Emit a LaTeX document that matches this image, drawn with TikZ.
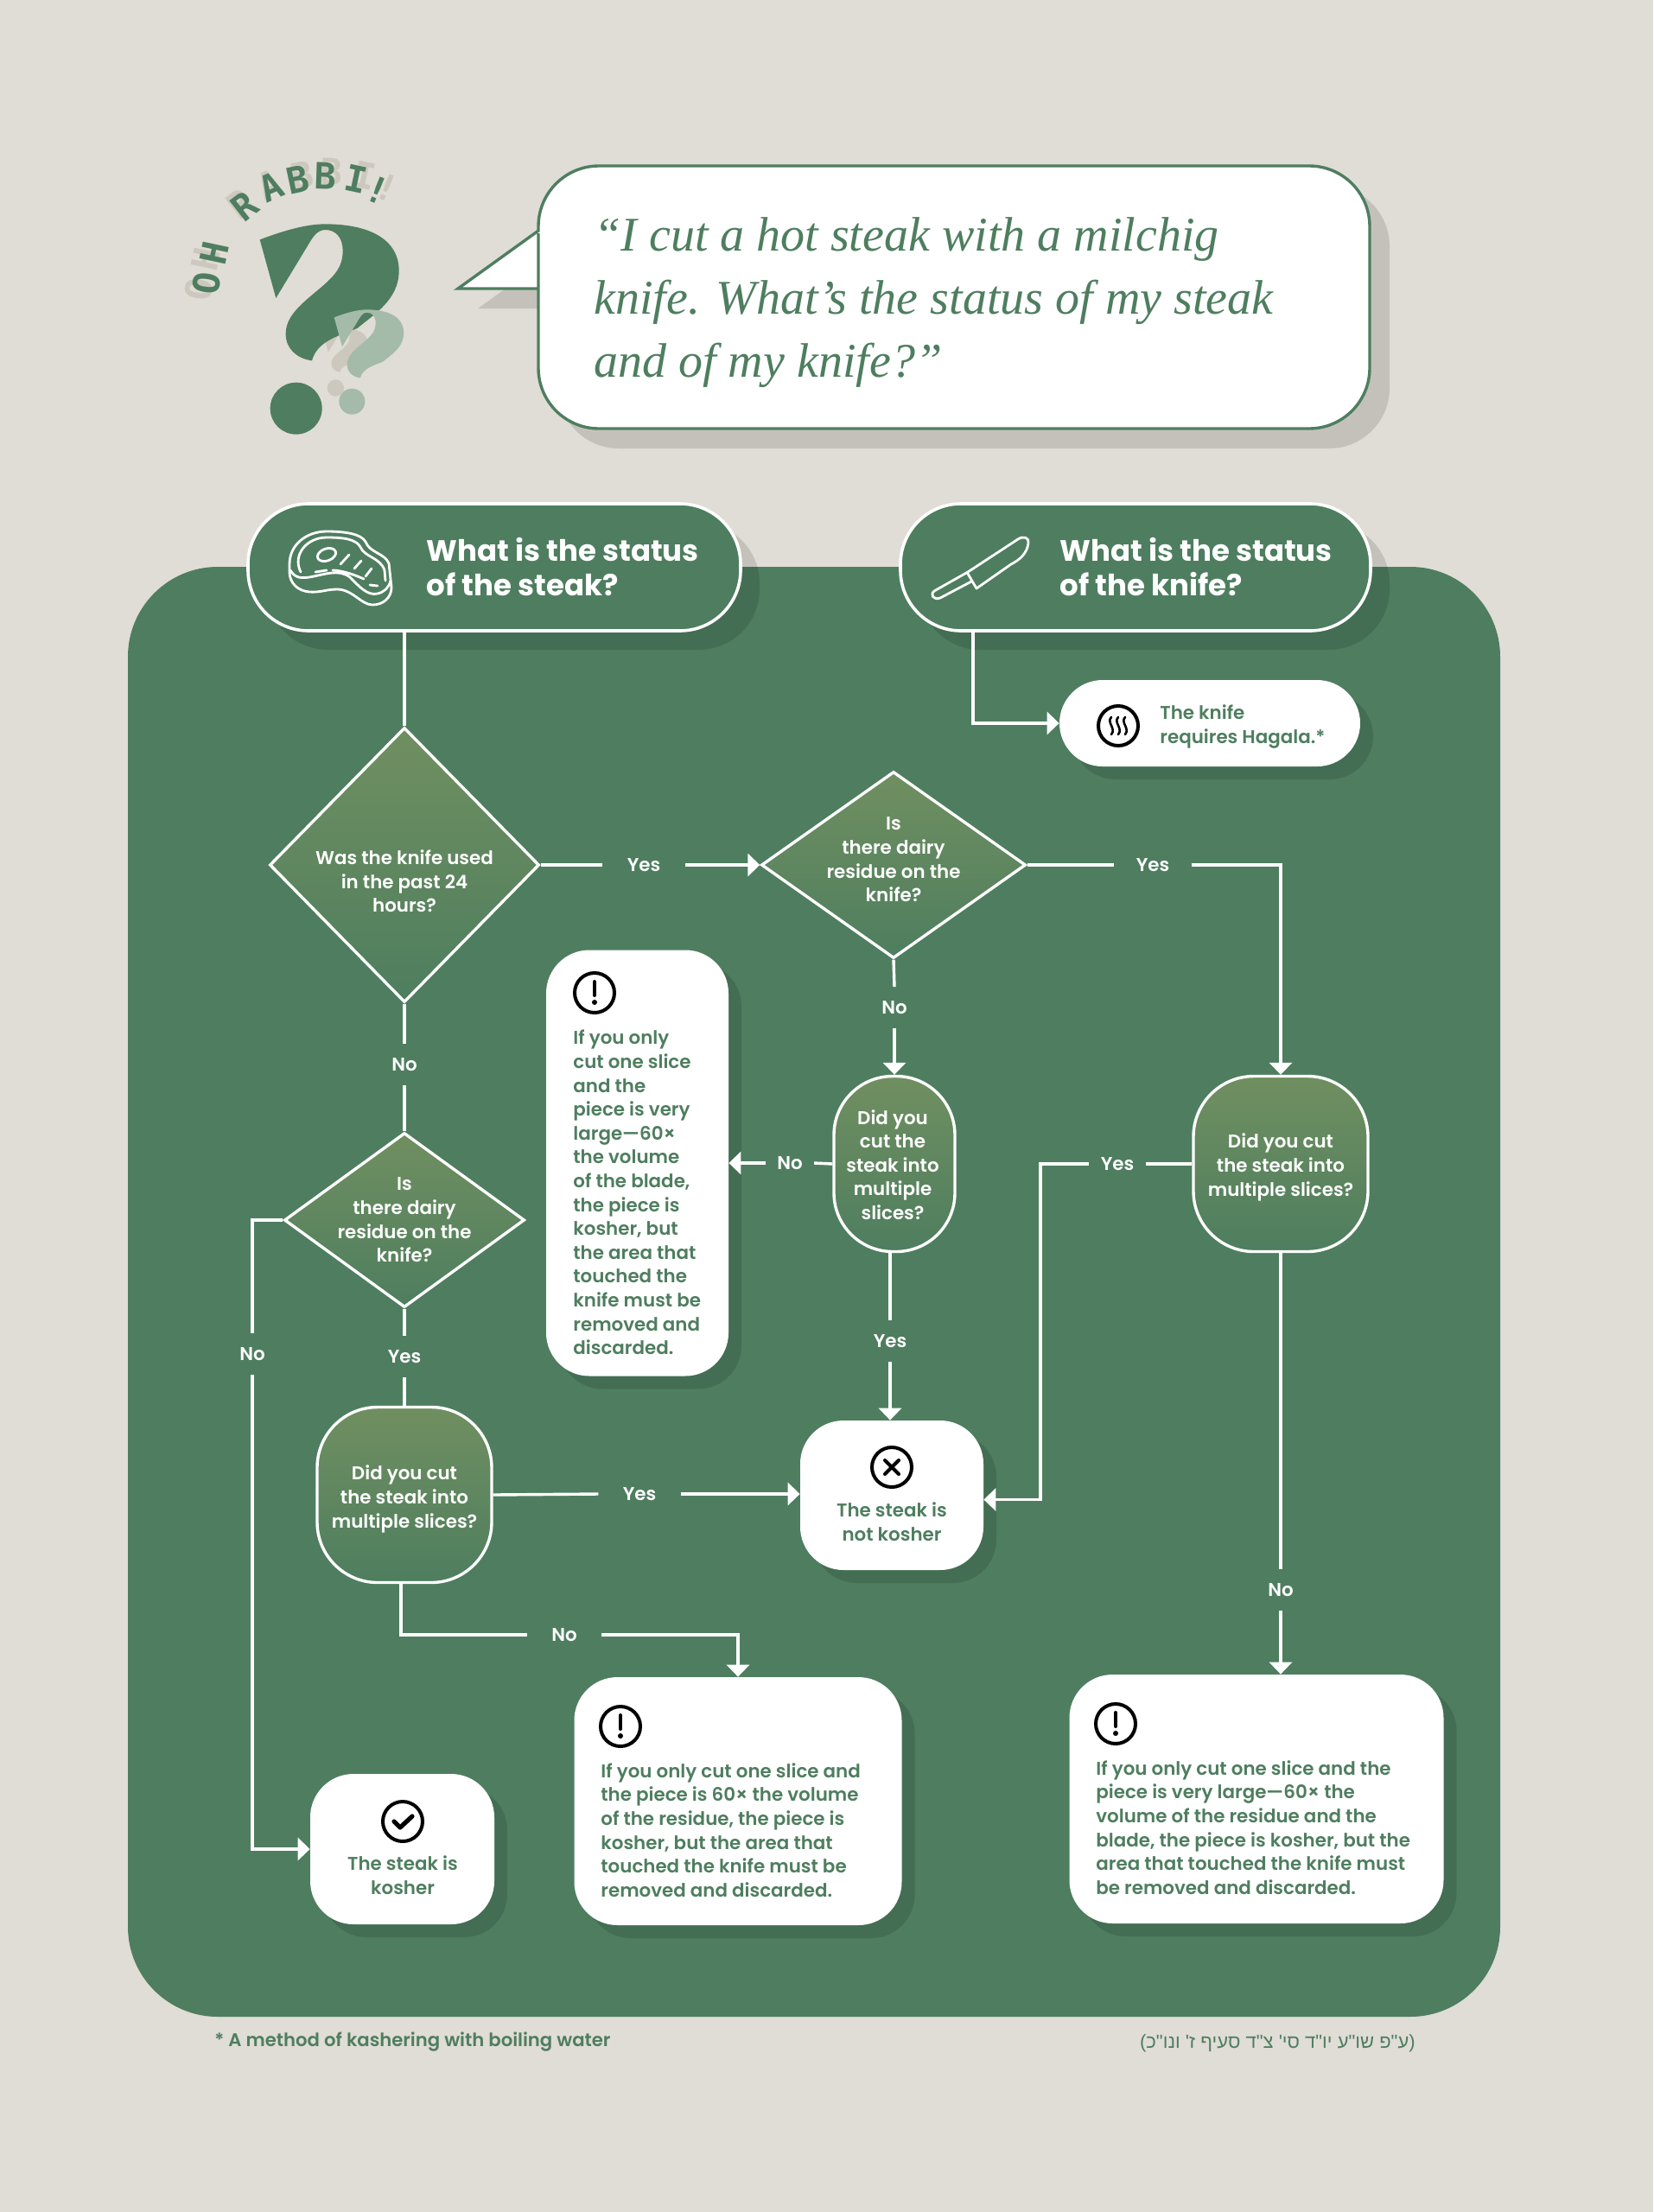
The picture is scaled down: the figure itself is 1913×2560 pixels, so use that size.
\documentclass[tikz,border=0pt]{standalone}
\usepackage{fontspec}
\setsansfont{Poppins}[BoldFont=Poppins SemiBold]
\newfontfamily\hdrfont{Poppins}[UprightFont=* Bold]
\newfontfamily\quotefont{Liberation Serif}
\newfontfamily\hebfont[Script=Hebrew]{Liberation Sans}
\newfontfamily\monofnt{DejaVu Sans Mono}[BoldFont=DejaVu Sans Mono Bold]
\TeXXeTstate=1
\usepackage{tikz}
\usetikzlibrary{positioning,arrows.meta,calc,shapes.geometric,shadows}
\definecolor{pgreen}{HTML}{4E7E5F}
\definecolor{qtop}{HTML}{708F60}
\definecolor{bgc}{HTML}{E0DCD6}
\definecolor{cgray}{HTML}{CDC8BE}
\definecolor{clight}{HTML}{A5BBA9}
\tikzset{
  shd/.style={drop shadow={shadow xshift=#1,shadow yshift=-#1,fill=black,opacity=.12}},
  warnic/.pic={
    \draw[line width=2pt] (0,0) circle[radius=23];
    \draw[line width=2pt,line cap=round] (0,-13) -- (0,3);
    \fill (0,11) circle[radius=3];},
  crossic/.pic={
    \draw[line width=2pt] (0,0) circle[radius=23];
    \draw[line width=2pt,line cap=round] (-8,-8) -- (8,8) (-8,8) -- (8,-8);},
  checkic/.pic={
    \draw[line width=2pt] (0,0) circle[radius=23];
    \draw[line width=2.6pt,line cap=round,line join=round] (-10,0) -- (-3,7) -- (11,-6);},
  steamic/.pic={
    \draw[line width=2pt] (0,0) circle[radius=23];
    \foreach \dx in {-8,0,8}
      \draw[line width=1.3pt,line cap=round] (\dx,-10) .. controls (\dx-6,-4) and (\dx+6,3) .. (\dx,10);},
  qmk/.pic={
    \path[pic actions] (362,352) .. controls (460,315) and (530,298) .. (590,298)
      .. controls (740,298) and (845,350) .. (845,460)
      .. controls (845,560) and (760,610) .. (700,660)
      .. controls (620,690) and (560,710) .. (543,772)
      .. controls (490,765) and (452,730) .. (452,680)
      .. controls (452,620) and (500,580) .. (560,530)
      .. controls (620,480) and (650,450) .. (650,390)
      .. controls (650,345) and (625,318) .. (590,318)
      .. controls (560,318) and (545,345) .. (530,370) -- (418,555) -- cycle;}
}
\begin{document}
\begin{tikzpicture}[x=0.5pt,y=-0.5pt,
  hdr/.style={draw=white,line width=1.8pt,fill=pgreen,rounded corners=35pt,shd=11pt,minimum height=73.5pt},
  wbx/.style={fill=white,rounded corners=25pt,shd=7.5pt},
  qbx/.style={draw=white,line width=1.7pt,top color=qtop,bottom color=pgreen,rounded corners=35pt,
    minimum width=#1,minimum height=101.5pt},
  dia/.style={diamond,draw=white,line width=1.7pt,top color=qtop,bottom color=pgreen,inner sep=0pt},
  qtxt/.style={font=\sffamily\bfseries\fontsize{10.7}{13.8}\selectfont,text=white,align=center,inner sep=0pt},
  htxt/.style={font=\hdrfont\fontsize{17}{19.6}\selectfont,text=white,align=left,anchor=west,inner sep=0pt},
  wtxt/.style={font=\sffamily\bfseries\fontsize{10.7}{13.8}\selectfont,text=pgreen,align=#1,inner sep=0pt},
  lbl/.style={font=\sffamily\bfseries\fontsize{10.7}{13}\selectfont,text=white,inner xsep=#1,inner ysep=8pt},
  lbl/.default=6.5pt,
  ln/.style={draw=white,line width=1.7pt},
  arw/.style={ln,-{Triangle[length=7pt,width=13pt]}}]
\useasboundingbox (0,0) rectangle (1913,2560);
\fill[bgc] (0,0) rectangle (1913,2560);
\fill[pgreen,rounded corners=52pt] (148,1000) -- (148,656) -- (1736,656) -- (1736,2334) -- (148,2334) -- cycle;
% bubble
\path[draw=pgreen,line width=1.7pt,fill=white,shd=11.5pt] (530,334) -- (623,267) -- (623,260)
  [rounded corners=35pt] -- (623,192) -- (1585,192) -- (1585,496) -- (623,496) -- (623,340)
  [sharp corners] -- (623,334) -- cycle;
\node[font=\quotefont\itshape\fontsize{28}{36.5}\selectfont,text=pgreen,align=left,anchor=west,inner sep=0pt] (quote) at (687,350)
  {“I cut a hot steak with a milchig\\knife. What’s the status of my steak\\and of my knife?”};
% question marks and title
\begin{scope}[shift={(180,160)},x=.16667pt,y=-.16667pt]
\pic[fill=cgray,shift={(466,565)},scale=.32] {qmk};
\fill[cgray] (625,867) circle[radius=29];
\pic[fill=pgreen] {qmk};
\fill[pgreen] (488,938) circle[radius=90];
\pic[fill=clight,shift={(439,446)},scale=.5] {qmk};
\fill[clight] (682,914) circle[radius=45];
\foreach \ch/\px/\py/\rot/\gx/\gy [count=\i] in {O/178/505/82/150/525,H/205/400/78/175/420,R/310/235/38/295/228,
    A/400/170/24/395/160,B/495/145/12/510/130,B/590/130/-2/610/115,I/695/140/-12/725/130,!/770/180/-22/805/170}{
  \node[font=\monofnt\bfseries\fontsize{21}{21}\selectfont,text=cgray,rotate=\rot,inner sep=0pt] (lg\i) at (\gx,\gy) {\ch};
  \node[font=\monofnt\bfseries\fontsize{21}{21}\selectfont,text=pgreen,rotate=\rot,inner sep=0pt] (lt\i) at (\px,\py) {\ch};
}
\end{scope}
% headers
\node[hdr,minimum width=285pt] (h1) at (572,656.5) {};
\node[hdr,minimum width=272pt] (h2) at (1314,656.5) {};
\node[htxt] (h1t) at (493,656) {What is the status\\of the steak?};
\node[htxt] (h2t) at (1226,656) {What is the status\\of the knife?};
\begin{scope}[white,line width=1.4pt,line cap=round,line join=round]
\draw (335,653) .. controls (335,630) and (355,615) .. (378,615) .. controls (400,615) and (418,618) .. (423,627)
  .. controls (428,640) and (445,640) .. (450,652) -- (453,680) .. controls (453,692) and (443,700) .. (431,700)
  .. controls (418,700) and (408,682) .. (390,682) .. controls (378,682) and (370,686) .. (358,685)
  .. controls (345,684) and (335,675) .. (335,662) -- cycle;
\draw (336,660) .. controls (342,670) and (350,669) .. (358,668) .. controls (375,665) and (392,658) .. (405,668)
  .. controls (415,678) and (425,690) .. (437,687) .. controls (445,685) and (450,680) .. (452,672);
\draw (348,662) .. controls (338,642) and (355,622) .. (378,622) .. controls (398,622) and (412,624) .. (417,633)
  .. controls (422,645) and (440,645) .. (445,660) -- (446,672);
\draw[rotate around={20:(378,642)}] (378,642) ellipse[x radius=11,y radius=7];
\draw (394,653) -- (404,642) (410,658) -- (418,649) (423,667) -- (430,658);
\draw (365,662) -- (378,660) (385,660) .. controls (395,660) and (410,665) .. (421,670) (428,677) -- (437,678);
\draw (1081,684) -- (1120,662) -- (1178,624) .. controls (1184,620) and (1191,622) .. (1190,628)
  .. controls (1189,640) and (1180,648) .. (1170,653) -- (1130,681) -- (1120,664)
  (1124,673) -- (1088,692) .. controls (1080,695) and (1076,688) .. (1081,684);
\end{scope}
% decisions
\node[dia,minimum width=156pt,minimum height=159pt,label={[qtxt,yshift=-9.5pt]center:{Was the knife used\\in the past 24\\hours?}}] (d1) at (468,1001) {};
\node[dia,minimum width=153pt,minimum height=108pt,label={[qtxt,yshift=3pt]center:{Is\\there dairy\\residue on the\\knife?}}] (d2) at (1034,1001) {};
\node[dia,minimum width=139pt,minimum height=101pt,label={[qtxt]center:{Is\\there dairy\\residue on the\\knife?}}] (d3) at (468,1412) {};
\node[qbx=70pt,rounded corners=34pt] (qa) at (1035,1347) {};
\node[qtxt] (qat) at (1033,1348) {Did you\\cut the\\steak into\\multiple\\slices?};
\node[qbx=101pt] (qb) at (1482,1347) {};
\node[qtxt] (qbt) at (1482,1351) {Did you cut\\the steak into\\multiple slices?};
\node[qbx=101pt] (qc) at (468,1730) {};
\node[qtxt] (qct) at (468,1735) {Did you cut\\the steak into\\multiple slices?};
% results
\node[wbx,minimum width=174pt,minimum height=50pt,rounded corners=25pt] (hag) at (1400,837) {};
\node[wtxt=left,anchor=west] (hagt) at (1342,841) {The knife\\requires Hagala.*};
\pic at (1294,840) {steamic};
\node[wbx,minimum width=105.5pt,minimum height=246.5pt] (w1) at (737.5,1346) {};
\node[wtxt=left,anchor=west] (w1t) at (663,1380) {If you only\\cut one slice\\and the\\piece is very\\large---60×\\the volume\\of the blade,\\the piece is\\kosher, but\\the area that\\touched the\\knife must be\\removed and\\discarded.};
\pic at (688,1149) {warnic};
\node[wbx,minimum width=106pt,minimum height=86.5pt] (nk) at (1032,1730.5) {};
\node[wtxt=center] (nkt) at (1032,1761) {The steak is\\not kosher};
\pic at (1032,1698) {crossic};
\node[wbx,minimum width=189.5pt,minimum height=143.5pt] (w2) at (854,2084.5) {};
\node[wtxt=left,anchor=west] (w2t) at (695,2118) {If you only cut one slice and\\the piece is 60× the volume\\of the residue, the piece is\\kosher, but the area that\\touched the knife must be\\removed and discarded.};
\pic at (718,1998) {warnic};
\node[wbx,minimum width=216.5pt,minimum height=144pt] (w3) at (1454,2082) {};
\node[wtxt=left,anchor=west] (w3t) at (1268,2115) {If you only cut one slice and the\\piece is very large---60× the\\volume of the residue and the\\blade, the piece is kosher, but the\\area that touched the knife must\\be removed and discarded.};
\pic at (1291,1995) {warnic};
\node[wbx,minimum width=106.5pt,minimum height=87pt] (ks) at (465.5,2140) {};
\node[wtxt=center] (kst) at (466,2170) {The steak is\\kosher};
\pic at (466,2108) {checkic};
% labels
\node[lbl=14pt] (y1) at (745,1001) {Yes};
\node[lbl=12.5pt] (y2) at (1334,1001) {Yes};
\node[lbl] (n1) at (468,1232) {No};
\node[lbl] (n2) at (1035,1166) {No};
\node[lbl] (n3) at (914,1346) {No};
\node[lbl] (yb) at (1293,1347) {Yes};
\node[lbl] (ya) at (1030,1552) {Yes};
\node[lbl] (nb) at (1482,1840) {No};
\node[lbl] (y3) at (468,1570) {Yes};
\node[lbl] (nl) at (292,1567) {No};
\node[lbl=14pt] (yc) at (740,1729) {Yes};
\node[lbl=14pt] (nc) at (653,1892) {No};
\coordinate (h2k) at (1126,731);
\coordinate (bk) at (1204,1347);
% connectors
\draw[ln] (h1.south -| d1.north) -- (d1.north);
\draw[arw] (h2k) |- (hag.west);
\draw[ln] (d1.east) -- (y1.west);
\draw[arw] (y1.east) -- (d2.west);
\draw[ln] (d2.east) -- (y2.west);
\draw[arw] (y2.east) -| (qb.north);
\draw[ln] (d2.south) -- (n2.north);
\draw[arw] (n2.south) -- (n2.south |- qa.north);
\draw[ln] (qa.west) -- (n3.east);
\draw[arw] (n3.west) -- (w1.east);
\draw[ln] (qa.south -| ya) -- (ya.north);
\draw[arw] (ya.south) -- (ya.south |- nk.north);
\draw[ln] (qb.west) -- (yb.east);
\draw[arw] (yb.west) -- (bk) |- ([yshift=-2.5pt]nk.east);
\draw[ln] (qb.south) -- (nb.north);
\draw[arw] (nb.south) -- (nb.south |- w3.north);
\draw[ln] (d1.south) -- (n1.north);
\draw[ln] (n1.south) -- (d3.north);
\draw[ln] (d3.south) -- (y3.north);
\draw[ln] (y3.south) -- (qc.north);
\draw[ln] (d3.west) -| (nl.north);
\draw[arw] (nl.south) |- (ks.west);
\draw[ln] (qc.east) -- (yc.west);
\draw[arw] (yc.east) -- (yc.east -| nk.west);
\draw[ln] ([xshift=-2pt]qc.south) |- (nc.west);
\draw[arw] (nc.east) -| (w2.north);
% footer
\node[font=\sffamily\bfseries\fontsize{10.6}{13}\selectfont,text=pgreen,anchor=west,inner sep=0pt] (fn) at (248,2363) {* A method of kashering with boiling water};
\node[font=\hebfont\fontsize{11}{13}\selectfont,text=pgreen,anchor=east,inner sep=0pt] (src) at (1638,2365) {\beginR(ע"פ שו"ע יו"ד סי' צ"ד סעיף ז' ונו"כ)\endR};
\end{tikzpicture}
\end{document}
